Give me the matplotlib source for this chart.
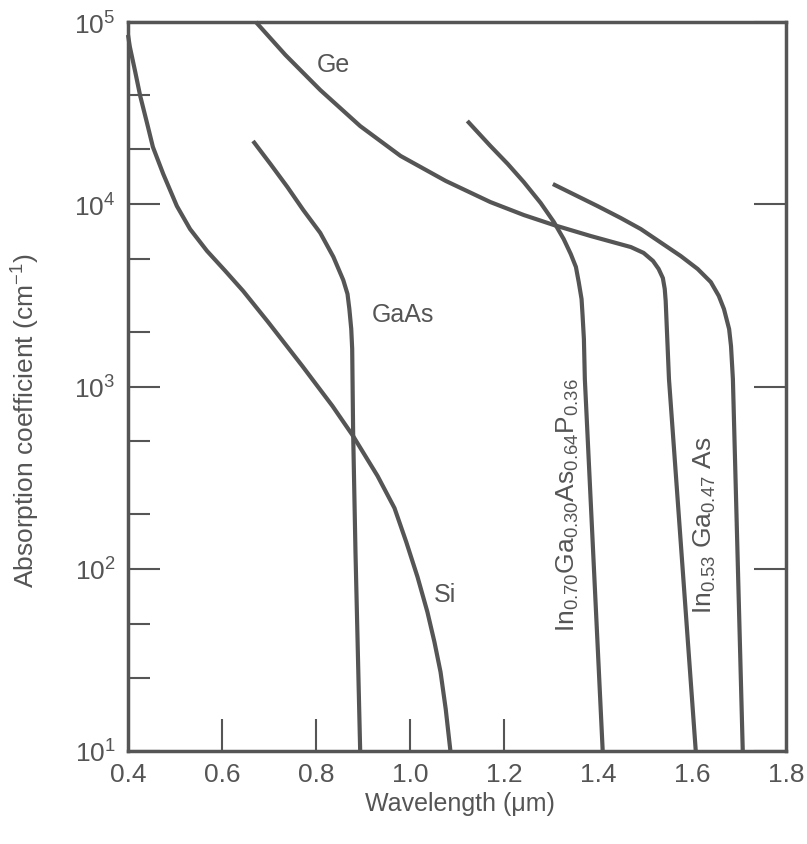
import numpy as np
import matplotlib
matplotlib.use('Agg')
import matplotlib.pyplot as plt
from matplotlib.ticker import FixedLocator, NullFormatter

plt.rcParams['font.family'] = ['Liberation Sans', 'DejaVu Sans']
plt.rcParams['mathtext.fontset'] = 'custom'
plt.rcParams['mathtext.rm'] = 'Liberation Sans'
plt.rcParams['mathtext.it'] = 'Liberation Sans:italic'
plt.rcParams['mathtext.bf'] = 'Liberation Sans:bold'

# wavelength (um) and log10 of absorption coefficient (cm^-1)
si_x = [0.400, 0.404, 0.415, 0.426, 0.441, 0.453, 0.475, 0.504, 0.532, 0.568,
        0.607, 0.645, 0.698, 0.771, 0.835, 0.879, 0.931, 0.967, 0.992, 1.016,
        1.037, 1.052, 1.065, 1.076, 1.086]
si_log = [4.929, 4.863, 4.731, 4.594, 4.440, 4.314, 4.166, 3.990, 3.864, 3.744,
          3.634, 3.524, 3.354, 3.112, 2.893, 2.728, 2.509, 2.333, 2.147, 1.955,
          1.763, 1.598, 1.433, 1.230, 1.0]

gaas_x = [0.666, 0.703, 0.739, 0.773, 0.809, 0.837, 0.858, 0.867, 0.871, 0.875,
          0.877, 0.879, 0.884, 0.894]
gaas_log = [4.347, 4.221, 4.095, 3.968, 3.843, 3.711, 3.584, 3.508, 3.425, 3.315,
            3.206, 2.750, 2.092, 1.0]

ge_x = [0.672, 0.735, 0.809, 0.894, 0.980, 1.076, 1.171, 1.242, 1.306, 1.384,
        1.470, 1.497, 1.517, 1.529, 1.538, 1.542, 1.544, 1.551, 1.608]
ge_log = [5.0, 4.819, 4.627, 4.429, 4.265, 4.128, 4.012, 3.941, 3.886, 3.826,
          3.765, 3.733, 3.689, 3.645, 3.595, 3.535, 3.469, 3.041, 1.0]

ingaasp_x = [1.122, 1.171, 1.208, 1.242, 1.278, 1.306, 1.327, 1.342, 1.353, 1.359,
             1.365, 1.367, 1.370, 1.372, 1.410]
ingaasp_log = [4.457, 4.320, 4.221, 4.122, 4.007, 3.903, 3.809, 3.727, 3.656, 3.573,
               3.480, 3.398, 3.261, 3.041, 1.0]

ingaas_x = [1.304, 1.399, 1.448, 1.491, 1.576, 1.612, 1.640, 1.657, 1.668, 1.679,
            1.683, 1.687, 1.708]
ingaas_log = [4.111, 3.990, 3.925, 3.864, 3.716, 3.645, 3.573, 3.497, 3.425, 3.315,
              3.222, 3.041, 1.0]

curves = [(si_x, si_log), (gaas_x, gaas_log), (ge_x, ge_log),
          (ingaasp_x, ingaasp_log), (ingaas_x, ingaas_log)]

x_ticks = [0.4, 0.6, 0.8, 1.0, 1.2, 1.4, 1.6, 1.8]
x_labels = ['0.4', '0.6', '0.8', '1.0', '1.2', '1.4', '1.6', '1.8']
y_minor = [25, 50, 200, 500, 2000, 5000, 20000, 40000]

ink = '#555555'

fig = plt.figure(figsize=(8.07, 8.45), dpi=100)
ax = fig.add_axes([128 / 807, 93 / 845, 658 / 807, 729 / 845])

for xs, logs in curves:
    ax.plot(xs, 10 ** np.array(logs), color=ink, lw=3.0,
            solid_joinstyle='round', solid_capstyle='butt', clip_on=False)

ax.set_yscale('log')
ax.set_xlim(0.4, 1.8)
ax.set_ylim(10, 1e5)

ax.set_xticks(x_ticks)
ax.set_xticklabels(x_labels)
ax.yaxis.set_minor_locator(FixedLocator(y_minor))
ax.yaxis.set_minor_formatter(NullFormatter())

ax.tick_params(axis='both', which='major', direction='in', length=23, width=1.5,
               color=ink, labelcolor=ink, labelsize=19, pad=8)
ax.tick_params(axis='y', which='major', right=True, pad=9)
ax.tick_params(axis='y', which='minor', direction='in', length=16, width=1.5,
               color=ink, left=True, right=False)
ax.tick_params(axis='x', which='minor', bottom=False)

# no tick marks where curves meet the bottom axis or at the corners
for t, v in zip(ax.xaxis.get_major_ticks(), x_ticks):
    if v in (0.4, 1.4, 1.6, 1.8):
        t.tick1line.set_visible(False)

for s in ax.spines.values():
    s.set_color(ink)
    s.set_linewidth(2.5)

ax.set_xlabel('Wavelength (\u03bcm)', fontsize=18, color=ink)
ax.set_ylabel('Absorption coefficient (cm$^{-1}$)', fontsize=19, color=ink)
ax.xaxis.set_label_coords(0.505, -0.055)
ax.yaxis.set_label_coords(-0.13, 0.455)

ax.text(0.837, 59000, 'Ge', fontsize=18, color=ink, ha='center', va='center')
ax.text(0.984, 2500, 'GaAs', fontsize=18, color=ink, ha='center', va='center')
ax.text(1.075, 73, 'Si', fontsize=18, color=ink, ha='center', va='center')
ax.text(1.335, 226, 'In$_{0.70}$Ga$_{0.30}$As$_{0.64}$P$_{0.36}$', fontsize=19,
        color=ink, ha='center', va='center', rotation=90)
ax.text(1.627, 176, 'In$_{0.53}$ Ga$_{0.47}$ As', fontsize=19,
        color=ink, ha='center', va='center', rotation=90)

fig.savefig('out.png', dpi=100, facecolor='white')
